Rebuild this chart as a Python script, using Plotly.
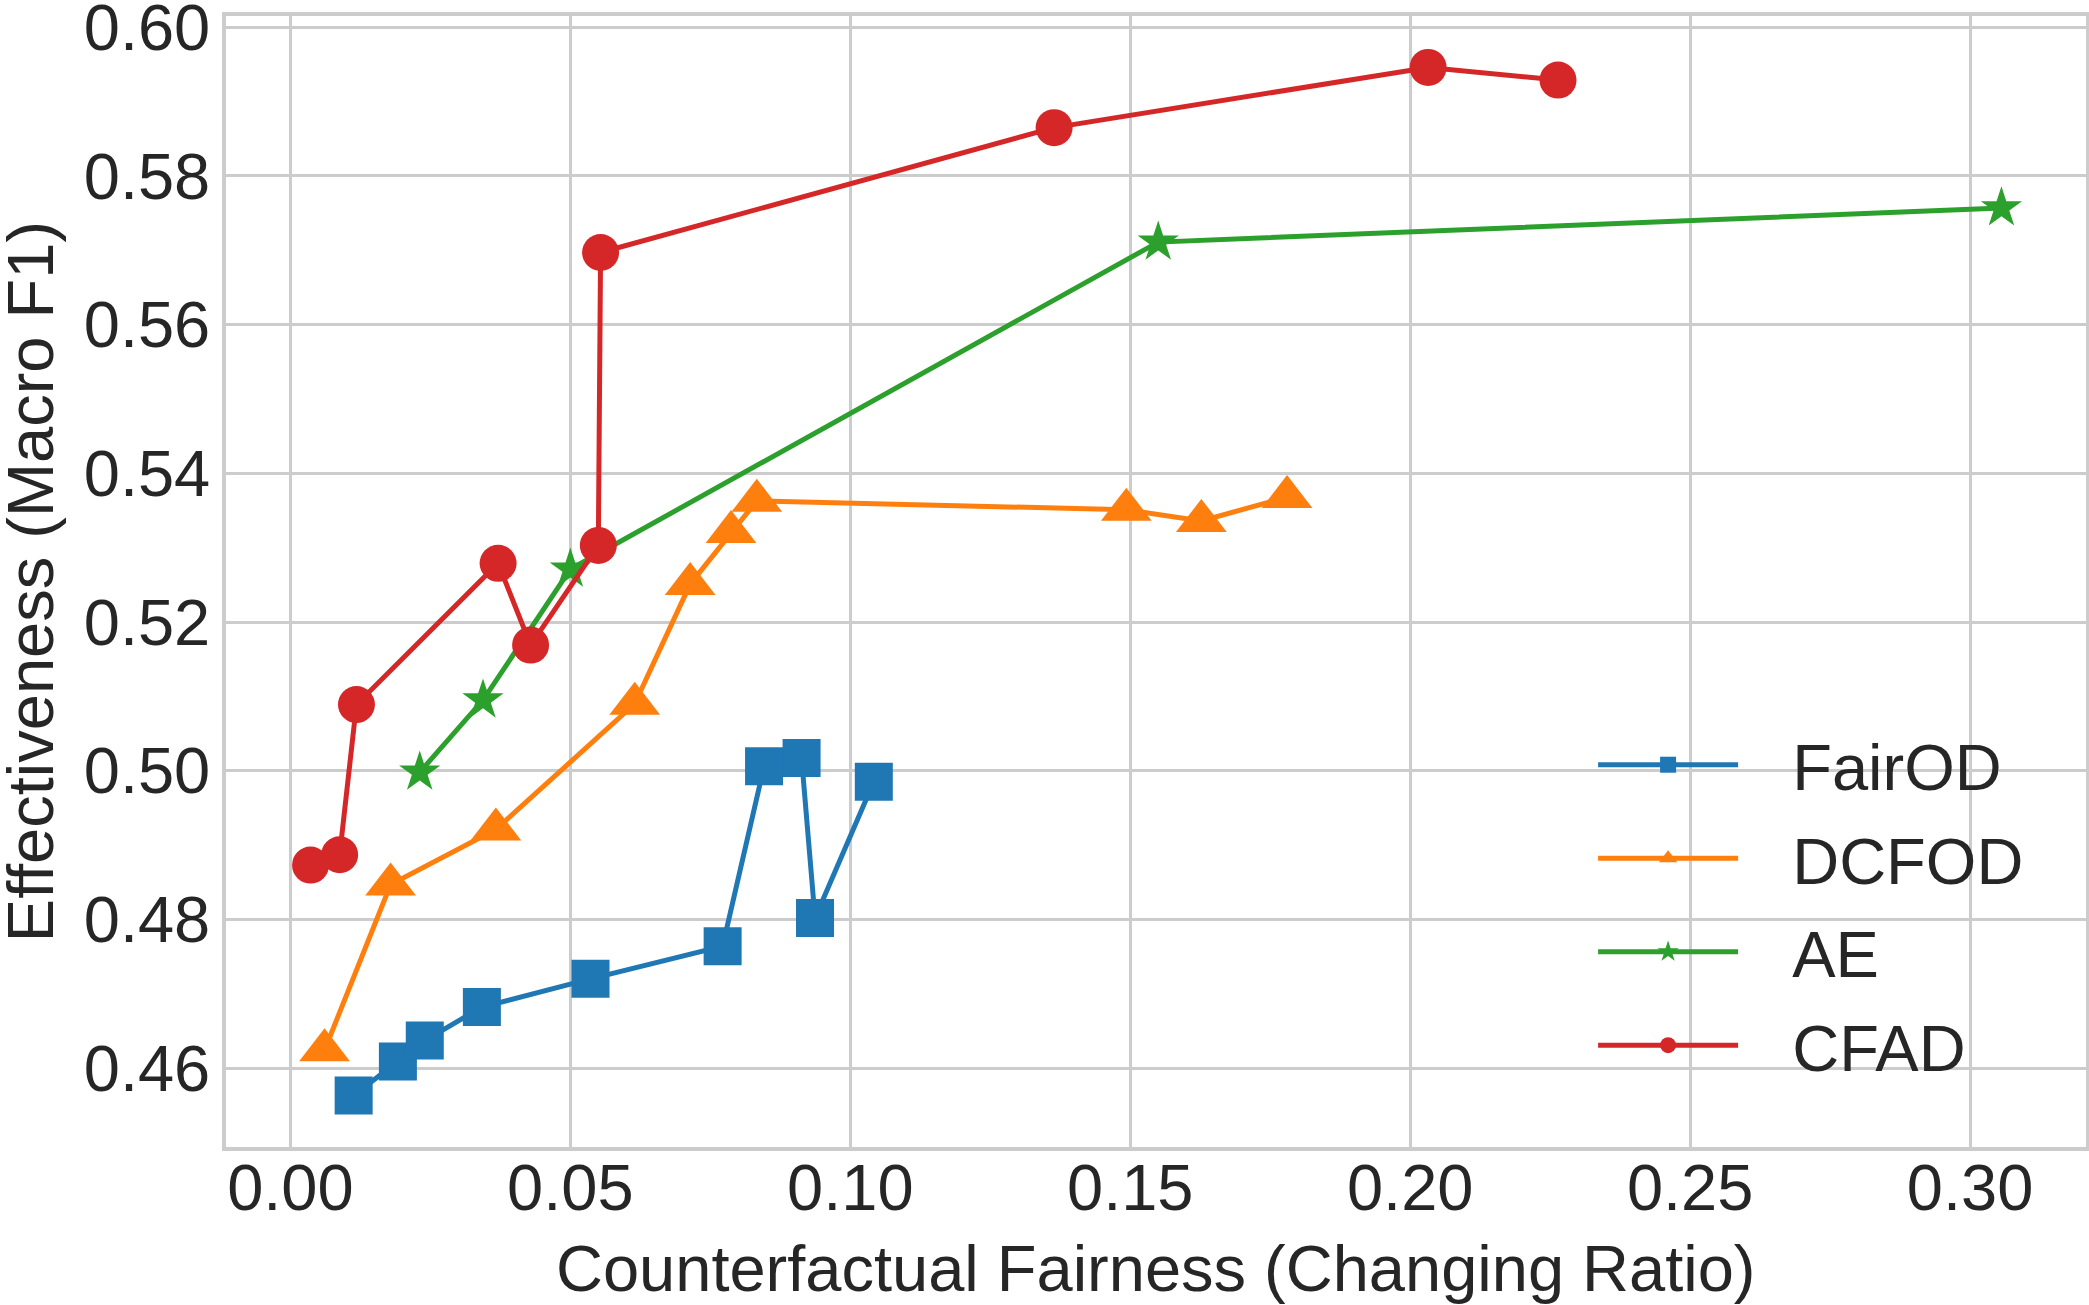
import plotly.graph_objects as go

# FairOD
fairod_x = [0.0113, 0.0192, 0.0240, 0.0342, 0.0536, 0.0772, 0.0846, 0.0913, 0.0937, 0.1042]
fairod_y = [0.4563, 0.4609, 0.4637, 0.4682, 0.4720, 0.4764, 0.5006, 0.5017, 0.4802, 0.4985]
# DCFOD
dcfod_x = [0.0061, 0.0179, 0.0367, 0.0615, 0.0714, 0.0787, 0.0833, 0.1493, 0.1627, 0.1780]
dcfod_y = [0.4624, 0.4847, 0.4921, 0.5090, 0.5251, 0.5321, 0.5363, 0.5351, 0.5336, 0.5368]
# AE
ae_x = [0.0231, 0.0344, 0.0500, 0.1550, 0.3056]
ae_y = [0.4998, 0.5095, 0.5271, 0.5711, 0.5757]
# CFAD
cfad_x = [0.0036, 0.0088, 0.0118, 0.0371, 0.0429, 0.0550, 0.0554, 0.1364, 0.2032, 0.2264]
cfad_y = [0.4873, 0.4887, 0.5089, 0.5279, 0.5169, 0.5303, 0.5697, 0.5865, 0.5946, 0.5929]

x_ticks = [0.00, 0.05, 0.10, 0.15, 0.20, 0.25, 0.30]
y_ticks = [0.46, 0.48, 0.50, 0.52, 0.54, 0.56, 0.58, 0.60]

series = [
    ("FairOD", fairod_x, fairod_y, "square", "#1f77b4", 38),
    ("DCFOD", dcfod_x, dcfod_y, "triangle-up", "#ff7f0e", 44),
    ("AE", ae_x, ae_y, "star", "#2ca02c", 31),
    ("CFAD", cfad_x, cfad_y, "circle", "#d62728", 37),
]

FONT = "Liberation Sans, Arial, sans-serif"
TXT = "#262626"
GRID = "#cccccc"
GAP = "\u00a0\u00a0\u2009"  # space between legend line and label

fig = go.Figure()
for name, xs, ys, sym, col, sz in series:
    fig.add_trace(go.Scatter(
        x=xs, y=ys, name=GAP + name, mode="lines+markers",
        legendgroup=name,
        line=dict(color=col, width=5),
        marker=dict(symbol=sym, size=sz, color=col, line=dict(width=0))))

# matplotlib-like 5% margins
all_x = fairod_x + dcfod_x + ae_x + cfad_x
all_y = fairod_y + dcfod_y + ae_y + cfad_y
xpad = (max(all_x) - min(all_x)) * 0.05
ypad = (max(all_y) - min(all_y)) * 0.05

fig.update_layout(
    width=2089, height=1305,
    margin=dict(l=226, r=3, t=16, b=158),
    paper_bgcolor="white", plot_bgcolor="white",
    font=dict(family=FONT, size=65, color=TXT),
    showlegend=True,
    legend=dict(x=0.735, y=0.214, xanchor="left", yanchor="middle",
                bgcolor="rgba(0,0,0,0)", font=dict(size=65),
                itemwidth=140, tracegroupgap=6),
    annotations=[
        dict(text="Effectiveness (Macro F1)", textangle=-90,
             xref="paper", yref="paper", x=-0.105, y=0.5,
             xanchor="center", yanchor="middle", showarrow=False,
             font=dict(size=65, color=TXT)),
        dict(text="Counterfactual Fairness (Changing Ratio)",
             xref="paper", yref="paper", x=0.5, y=-0.1075,
             xanchor="center", yanchor="middle", showarrow=False,
             font=dict(size=65, color=TXT)),
    ],
)
fig.update_xaxes(
    range=[min(all_x) - xpad, max(all_x) + xpad],
    tickvals=x_ticks, ticktext=["%.2f" % v for v in x_ticks],
    showgrid=True, gridcolor=GRID, gridwidth=3,
    showline=True, linecolor=GRID, linewidth=3.5, mirror=True,
    zeroline=False, ticks="", ticklabelstandoff=-19, automargin=False,
)
fig.update_yaxes(
    range=[min(all_y) - ypad, max(all_y) + ypad],
    tickvals=y_ticks, ticktext=["%.2f" % v for v in y_ticks],
    showgrid=True, gridcolor=GRID, gridwidth=3,
    showline=True, linecolor=GRID, linewidth=3.5, mirror=True,
    zeroline=False, ticks="", ticklabelstandoff=-1, automargin=False,
    ticklabeloverflow="allow",
)

# drop the browser's default 8px body margin so the figure sits at the page corner
fig.write_html("out.html", config={"displayModeBar": False},
               post_script="document.body.style.margin='0';")
